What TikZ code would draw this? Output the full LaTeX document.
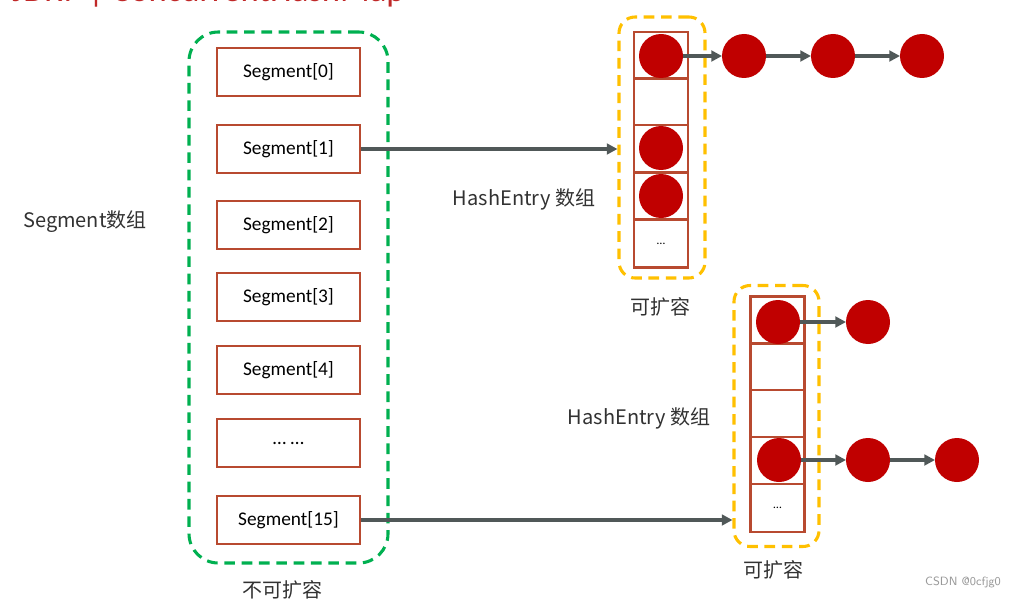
\documentclass[tikz,border=0pt]{standalone}
\usepackage{fontspec}
\setmainfont{Carlito}
\newfontfamily\cjk{Noto Sans CJK SC}
\usetikzlibrary{arrows.meta}
\definecolor{segc}{RGB}{184,74,48}
\definecolor{greenc}{RGB}{0,176,80}
\definecolor{yellowc}{RGB}{255,192,0}
\definecolor{redc}{RGB}{192,0,0}
\definecolor{arrc}{RGB}{80,88,88}
\definecolor{labc}{RGB}{50,50,50}
\definecolor{titlec}{RGB}{192,40,40}
\tikzset{
  segbox/.style={draw=segc, line width=2pt, minimum width=143*0.75pt, minimum height=48*0.75pt, inner sep=0pt, font=\fontsize{14.5}{16}\selectfont, text=black},
  cellbox/.style={draw=segc, line width=2pt, minimum width=54*0.75pt, minimum height=47*0.75pt, inner sep=0pt, font=\fontsize{9}{10}\selectfont},
  dot/.style={circle, fill=redc, minimum size=44*0.75pt, inner sep=0pt, outer sep=0pt},
  greenframe/.style={draw=greenc, line width=2.3pt, dash pattern=on 8pt off 5pt, rounded corners=22pt, inner sep=0pt},
  yellowframe/.style={draw=yellowc, line width=2.3pt, dash pattern=on 8pt off 5pt, rounded corners=12pt, inner sep=0pt},
  arr/.style={draw=arrc, line width=2.3pt, -{Triangle[length=8pt,width=8pt]}},
  lab/.style={font=\cjk\fontsize{15}{17}\selectfont, text=labc, inner sep=0pt},
}
\begin{document}
\begin{tikzpicture}[x=0.75pt,y=-0.75pt]
\useasboundingbox (0,0) rectangle (1016,599);
\fill[white] (0,0) rectangle (1016,599);
% title (cut off at top)
\node[anchor=base west, inner sep=0pt, text=titlec, font=\fontsize{26}{28}\selectfont] (title) at (12,2) {JDK7 | ConcurrentHashMap};
% green frame
\node[greenframe, minimum width=199*0.75pt, minimum height=531*0.75pt] (gf) at (288.5,297.5) {};
% segments
\node[segbox] (s0) at (288.5,72) {Segment[0]};
\node[segbox] (s1) at (288.5,149) {Segment[1]};
\node[segbox] (s2) at (288.5,225) {Segment[2]};
\node[segbox] (s3) at (288.5,297) {Segment[3]};
\node[segbox] (s4) at (288.5,370) {Segment[4]};
\node[segbox] (s5) at (288.5,443) {… …};
\node[segbox] (s15) at (288.5,520) {Segment[15]};
\node[lab] (l1) at (85,222) {Segment数组};
\node[lab] (l2) at (282,590) {不可扩容};
% upper array
\node[yellowframe, minimum width=86*0.75pt, minimum height=261*0.75pt] (y1) at (662,147.5) {};
\node[cellbox] (a1) at (661,55.5) {};
\node[cellbox] (a2) at (661,101.5) {};
\node[cellbox] (a3) at (661,148.5) {};
\node[cellbox] (a4) at (661,196) {};
\node[cellbox, minimum height=48*0.75pt] (a5) at (661,243.5) {…};
\node[dot] (p1) at (661,56) {};
\node[dot] (p3) at (661,148) {};
\node[dot] (p4) at (661,196) {};
\node[dot] (q1) at (744,56) {};
\node[dot] (q2) at (833,56) {};
\node[dot] (q3) at (922,56) {};
\draw[arr] (p1) -- (q1);
\draw[arr] (q1) -- (q2);
\draw[arr] (q2) -- (q3);
\node[lab] (l3) at (524,199) {HashEntry 数组};
\node[lab] (l4) at (660,307) {可扩容};
\draw[arr] (s1.east) -- (s1.east -| y1.west);
% lower array
\node[yellowframe, minimum width=85*0.75pt, minimum height=261*0.75pt] (y2) at (776.5,416) {};
\node[cellbox] (b1) at (777.5,320) {};
\node[cellbox] (b2) at (777.5,366.5) {};
\node[cellbox] (b3) at (777.5,413.5) {};
\node[cellbox] (b4) at (777.5,460.5) {};
\node[cellbox, minimum height=48*0.75pt] (b5) at (777.5,508) {…};
\node[dot] (r1) at (778,322) {};
\node[dot] (r4) at (779,460) {};
\node[dot] (t1) at (868,322) {};
\node[dot] (t2) at (868,460) {};
\node[dot] (t3) at (957,460) {};
\draw[arr] (r1) -- (t1);
\draw[arr] (r4) -- (t2);
\draw[arr] (t2) -- (t3);
\node[lab] (l5) at (639,418) {HashEntry 数组};
\node[lab] (l6) at (773,570) {可扩容};
\draw[arr] (s15.east) -- (s15.east -| y2.west);
% watermark
\node[font=\fontsize{9}{10}\selectfont\sffamily, text=gray!80, inner sep=0pt] (wm) at (963,582) {CSDN @0cfjg0};
\end{tikzpicture}
\end{document}
